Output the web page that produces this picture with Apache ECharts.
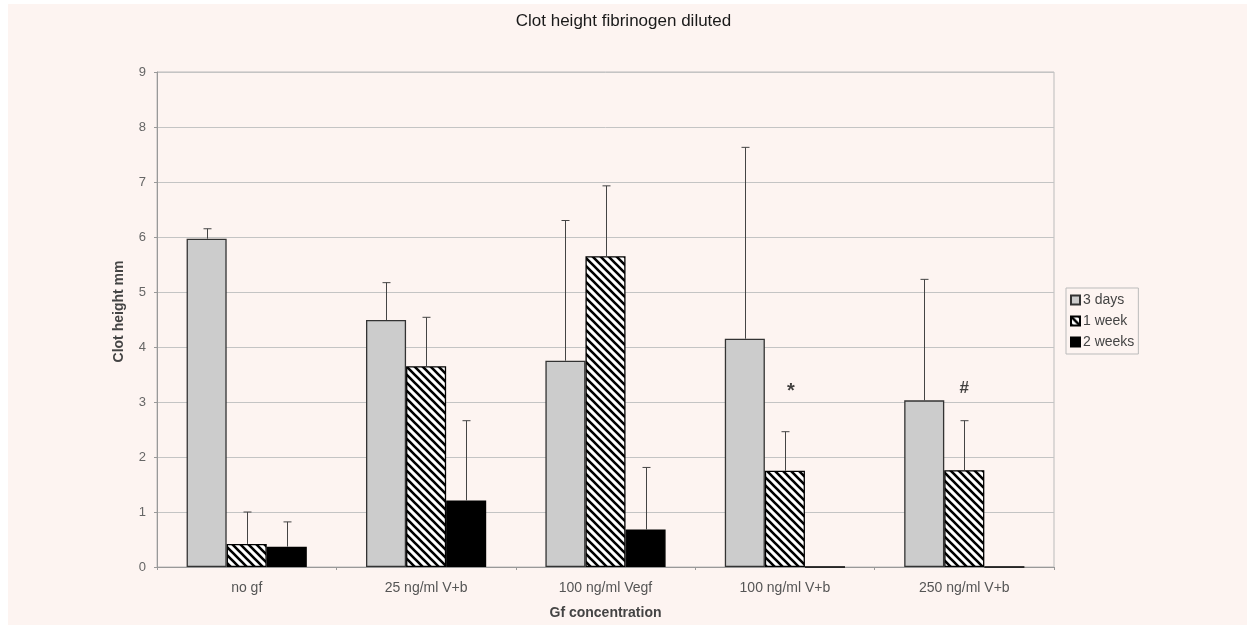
<!DOCTYPE html>
<html>
<head>
<meta charset="utf-8">
<script src="https://cdn.jsdelivr.net/npm/echarts@6/dist/echarts.min.js"></script>
<style>
  html, body { margin: 0; padding: 0; background: #fff; }
  #chart { width: 1247px; height: 625px; }
</style>
</head>
<body>
<div id="chart"></div>
<script>
// Clot height (mm) per growth-factor concentration, mean and upper error limit
const categories = ['no gf', '25 ng/ml V+b', '100 ng/ml Vegf', '100 ng/ml V+b', '250 ng/ml V+b'];
const seriesNames = ['3 days', '1 week', '2 weeks'];

const days3 = [5.97, 4.49, 3.75, 4.15, 3.03];
const days3Upper = [6.15, 5.17, 6.30, 7.63, 5.23];

const week1 = [0.42, 3.65, 5.65, 1.75, 1.76];
const week1Upper = [1.00, 4.54, 6.93, 2.46, 2.66];

const weeks2 = [0.37, 1.21, 0.68, 0, 0];
const weeks2Upper = [0.82, 2.66, 1.81, 0, 0];

const yTicks = { min: 0, max: 9, interval: 1 };

// significance marks placed above the 1-week error bars
const marks = [
  { category: 3, y: 3.25, text: '*' },
  { category: 4, y: 3.25, text: '#' }
];

const CAT_GAP = 0.33;
const FONT = '"Liberation Sans", Arial, sans-serif';

// diagonal hatch used for the 1-week bars
function hatchPattern() {
  const c = document.createElement('canvas');
  c.width = 8; c.height = 8;
  const g = c.getContext('2d');
  g.fillStyle = '#ffffff';
  g.fillRect(0, 0, 8, 8);
  g.strokeStyle = '#000000';
  g.lineWidth = 2.6;
  g.beginPath();
  g.moveTo(-2, -2); g.lineTo(10, 10);
  g.moveTo(-2, 6); g.lineTo(2, 10);
  g.moveTo(6, -2); g.lineTo(10, 2);
  g.stroke();
  return c;
}

const fills = [
  { color: '#cccccc', borderColor: '#333333' },
  { color: { image: hatchPattern(), repeat: 'repeat' }, borderColor: '#000000' },
  { color: '#000000', borderColor: '#000000' }
];

const means = [days3, week1, weeks2];
const uppers = [days3Upper, week1Upper, weeks2Upper];

function errorSeries(idx) {
  const data = [];
  means[idx].forEach((m, i) => {
    if (uppers[idx][i] > m) data.push([i, m, uppers[idx][i]]);
  });
  return {
    type: 'custom',
    name: seriesNames[idx] + ' error',
    z: 5,
    silent: true,
    data: data,
    encode: { x: 0, y: [1, 2] },
    renderItem: function (params, api) {
      const ci = api.value(0);
      const lo = api.coord([ci, api.value(1)]);
      const hi = api.coord([ci, api.value(2)]);
      const catW = api.size([1, 0])[0];
      const barW = catW * (1 - CAT_GAP) / 3;
      const x = Math.round(lo[0] + (idx - 1) * barW) + 0.5;
      const cap = 4;
      const st = { stroke: '#444444', lineWidth: 1 };
      return {
        type: 'group',
        children: [
          { type: 'line', shape: { x1: x, y1: lo[1], x2: x, y2: hi[1] }, style: st },
          { type: 'line', shape: { x1: x - cap, y1: hi[1], x2: x + cap, y2: hi[1] }, style: st }
        ]
      };
    }
  };
}

const barSeries = seriesNames.map((name, idx) => ({
  type: 'bar',
  name: name,
  data: means[idx],
  barGap: '0%',
  barCategoryGap: (CAT_GAP * 100) + '%',
  itemStyle: {
    color: fills[idx].color,
    borderColor: fills[idx].borderColor,
    borderWidth: 1.3
  }
}));

const chart = echarts.init(document.getElementById('chart'), null, { renderer: 'canvas' });

chart.setOption({
  backgroundColor: '#ffffff',
  animation: false,
  graphic: [{
    type: 'rect',
    left: 8, top: 4, z: -10,
    shape: { width: 1239, height: 621 },
    style: { fill: '#fdf4f1' }
  }],
  title: {
    text: 'Clot height fibrinogen diluted',
    left: 'center',
    top: 8,
    textStyle: { fontFamily: FONT, fontSize: 17, fontWeight: 'normal', color: '#1a1a1a' }
  },
  legend: {
    orient: 'vertical',
    left: 1066,
    top: 288,
    data: seriesNames,
    itemWidth: 9,
    itemHeight: 9,
    itemGap: 7,
    padding: [5, 4, 5, 4],
    borderColor: '#bbbbbb',
    borderWidth: 1,
    icon: 'rect',
    textStyle: { fontFamily: FONT, fontSize: 14, color: '#444444', padding: [0, 0, 0, -2] }
  },
  grid: {
    left: 157, right: 193, top: 72, bottom: 56,
    show: true,
    borderColor: '#bbbbbb',
    borderWidth: 1,
    backgroundColor: 'transparent'
  },
  xAxis: {
    type: 'category',
    data: categories,
    name: 'Gf concentration',
    nameLocation: 'middle',
    nameGap: 39,
    nameTextStyle: { fontFamily: FONT, fontSize: 14, fontWeight: 'bold', color: '#444444' },
    axisLine: { lineStyle: { color: '#999999' } },
    axisTick: { show: true, length: 3, lineStyle: { color: '#999999' } },
    axisLabel: { fontFamily: FONT, fontSize: 14, color: '#555555', margin: 14 }
  },
  yAxis: {
    type: 'value',
    min: yTicks.min,
    max: yTicks.max,
    interval: yTicks.interval,
    name: 'Clot height mm',
    nameLocation: 'middle',
    nameGap: 31,
    nameTextStyle: { fontFamily: FONT, fontSize: 14, fontWeight: 'bold', color: '#444444', padding: [0, 0, 0, 16] },
    axisLine: { show: true, lineStyle: { color: '#999999' } },
    axisTick: { show: true, length: 3, lineStyle: { color: '#999999' } },
    axisLabel: { fontFamily: FONT, fontSize: 13, color: '#666666', margin: 11 },
    splitLine: { lineStyle: { color: '#c4c4c4' } }
  },
  series: [
    ...barSeries,
    errorSeries(0),
    errorSeries(1),
    errorSeries(2),
    {
      type: 'scatter',
      name: 'marks',
      symbolSize: 0,
      silent: true,
      z: 6,
      data: marks.map((m, i) => ({
        value: [m.category, m.y],
        name: m.text,
        label: i === 0 ? { offset: [6, 3], fontSize: 20 } : {}
      })),
      label: {
        show: true,
        position: 'inside',
        formatter: p => p.name,
        fontFamily: FONT,
        fontSize: 17,
        fontWeight: 'bold',
        color: '#111111'
      }
    }
  ]
});
</script>
</body>
</html>
